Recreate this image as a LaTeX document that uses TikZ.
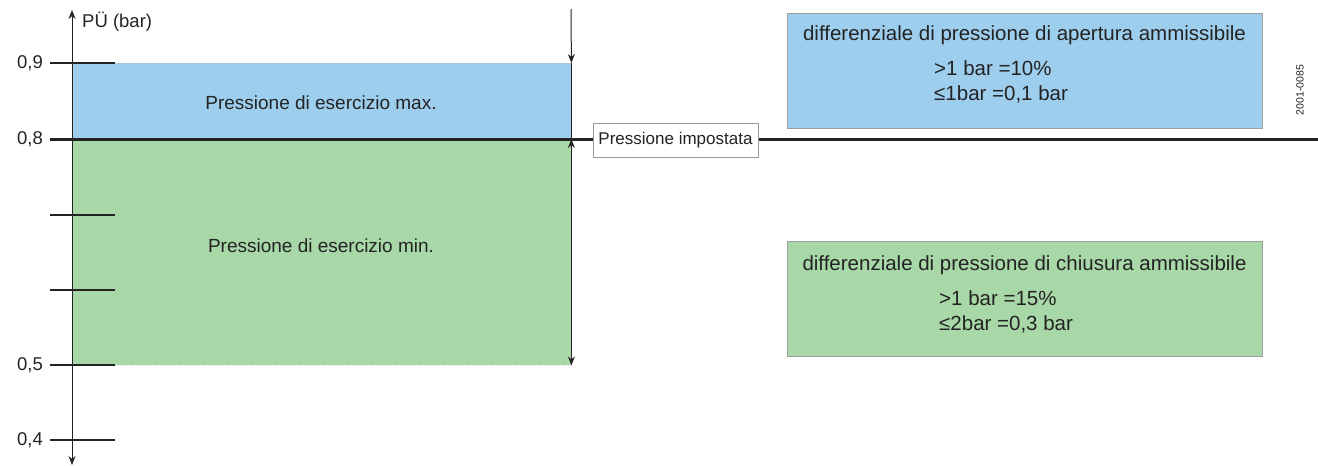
\documentclass[tikz,border=0pt]{standalone}
\usepackage{fontspec}
\setmainfont{Liberation Sans}
\usetikzlibrary{arrows.meta,positioning}
\definecolor{zoneblue}{RGB}{158,206,238}
\definecolor{zonegreen}{RGB}{168,216,168}
\definecolor{ink}{RGB}{35,35,35}
\tikzset{
  tickline/.style = {ink, line width=1.2pt},
  ticklabel/.style = {anchor=east, inner sep=0pt, text=ink, font=\fontsize{18.5}{22}\selectfont},
  zone/.style = {anchor=north west, inner sep=0pt, draw=none},
  zonetext/.style = {text=ink, font=\fontsize{19}{23}\selectfont},
  infobox/.style = {draw=gray!75, line width=1pt, inner sep=0pt, anchor=north west,
                    minimum width=475pt, minimum height=115pt},
  infotext/.style = {text=ink, inner sep=0pt, anchor=base, font=\fontsize{20.5}{25}\selectfont},
  setline/.style = {ink, line width=3pt},
  dimarrow/.style = {ink, line width=1pt, -{Stealth[length=9pt,width=7pt]}},
  twoway/.style = {ink, line width=1pt, {Stealth[length=9pt,width=7pt]}-{Stealth[length=9pt,width=7pt]}},
  edgedots/.style = {gray!45, line width=1pt, dotted},
}

\begin{document}
\begin{tikzpicture}[x=1pt, y=-1pt]
\useasboundingbox (0,0) rectangle (1318,466);

% pressure zones
\node[zone, fill=zoneblue, minimum width=499pt, minimum height=76pt] (maxzone) at (72,63) {};
\node[zone, fill=zonegreen, minimum width=499pt, minimum height=226pt] (minzone) at (72,139) {};
\node[zonetext] (maxtext) at (321,103) {Pressione di esercizio max.};
\node[zonetext] (mintext) at (321,246) {Pressione di esercizio min.};
\draw[edgedots] (maxzone.north west) ++(43,0) -- (maxzone.north east);
\draw[edgedots] (minzone.south west) ++(43,0) -- (minzone.south east);
\draw[ink, line width=0.8pt] (maxzone.north east) -- (maxzone.south east);

% axis with ticks
\coordinate (axtop) at (72,10);
\coordinate (axbot) at (72,465);
\draw[twoway] (axbot) -- (axtop);
\node[anchor=west, text=ink, inner sep=0pt, font=\fontsize{18.5}{22}\selectfont] (unit) at (82,22) {PÜ (bar)};
\foreach \y/\lab [count=\i] in {63/{0,9}, 139/{0,8}, 215/{}, 290/{}, 365/{0,5}, 440/{0,4}} {
  \coordinate (tl\i) at (50,\y);
  \coordinate (tr\i) at (115,\y);
  \draw[tickline] (tl\i) -- (tr\i);
  \node[ticklabel] (val\i) at (43,\y) {\lab};
}

% set pressure line
\coordinate (setL) at (50,139);
\coordinate (setR) at (1318,139);
\draw[setline] (setL) -- (setR);
\node[draw=gray!80, fill=white, line width=0.8pt, minimum width=165pt, minimum height=34pt, inner sep=0pt,
      text=ink, font=\fontsize{17}{20}\selectfont] (setlabel) at (675.5,140) {Pressione impostata};

% differential arrows
\coordinate (dimtop) at (571,9);
\draw[dimarrow] (dimtop) -- (maxzone.north east);
\draw[twoway] (minzone.north east) -- (minzone.south east);

% opening differential
\node[infobox, fill=zoneblue] (openbox) at (787,13) {};
\node[infotext] (opentitle) at (1024.5,40.5) {differenziale di pressione di apertura ammissibile};
\node[infotext, anchor=base west] (openhi) at (934,75) {>1 bar =10\%};
\node[infotext, anchor=base west] (openlo) at (934,100) {≤1bar =0,1 bar};

% closing differential
\node[infobox, fill=zonegreen] (closebox) at (787,241) {};
\node[infotext] (closetitle) at (1024.5,270) {differenziale di pressione di chiusura ammissibile};
\node[infotext, anchor=base west] (closehi) at (939,305) {>1 bar =15\%};
\node[infotext, anchor=base west] (closelo) at (939,330) {≤2bar =0,3 bar};

% drawing number
\node[rotate=90, text=ink, inner sep=0pt, font=\fontsize{10.5}{12}\selectfont] (docnum) at (1300,90) {2001-0085};
\end{tikzpicture}
\end{document}
